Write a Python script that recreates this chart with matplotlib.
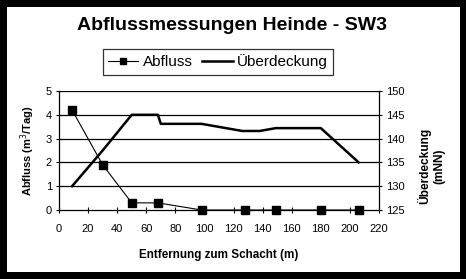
import matplotlib
matplotlib.use("Agg")
import matplotlib.pyplot as plt
from matplotlib.patches import Rectangle

plt.rcParams['font.family'] = ['Liberation Sans', 'DejaVu Sans']

# Data
abfluss_x = [9, 30, 50, 68, 98, 128, 149, 180, 206]
abfluss_y = [4.2, 1.9, 0.3, 0.3, 0.0, 0.0, 0.0, 0.0, 0.0]
ueber_x = [9, 30, 50, 68, 70, 98, 126, 138, 149, 180, 206]
ueber_y = [130, 137.5, 145, 145, 143.1, 143.1, 141.6, 141.6, 142.2, 142.2, 135]
x_ticks = list(range(0, 221, 20))
left_ticks = [0, 1, 2, 3, 4, 5]
right_ticks = [125, 130, 135, 140, 145, 150]

W, H = 466, 279
fig = plt.figure(figsize=(W / 100, H / 100), dpi=100, facecolor='black')
fig.patches.append(Rectangle((7 / W, 7 / H), (460 - 7) / W, (272 - 7) / H,
                             transform=fig.transFigure, facecolor='white',
                             edgecolor='none', zorder=-10))

L, R, T, B = 59, 379, 91, 210
ax = fig.add_axes([L / W, 1 - B / H, (R - L) / W, (B - T) / H])
ax.set_facecolor('none')
ax2 = ax.twinx()
ax2.set_facecolor('none')

ax.set_xlim(0, 220)
ax.set_ylim(0, 5)
ax2.set_ylim(125, 150)
ax.set_xticks(x_ticks)
ax.set_yticks(left_ticks)
ax2.set_yticks(right_ticks)

for y in left_ticks[1:]:
    ax.axhline(y, color='black', lw=0.9, zorder=1)

l1, = ax.plot(abfluss_x, abfluss_y, color='black', lw=0.8, marker='s',
              markersize=5.5, zorder=3, clip_on=False)
l2, = ax2.plot(ueber_x, ueber_y, color='black', lw=1.8, zorder=3)

for a in (ax, ax2):
    a.spines['top'].set_visible(False)
    for s in a.spines.values():
        s.set_linewidth(0.9)
ax.spines['right'].set_visible(False)
ax2.spines['left'].set_visible(False)
ax2.spines['bottom'].set_visible(False)

tick_kw = dict(labelsize=8, length=4, width=0.8, colors='black')
ax.tick_params(axis='x', direction='inout', pad=8, **tick_kw)
ax.tick_params(axis='y', direction='inout', pad=3, **tick_kw)
ax2.tick_params(axis='y', direction='inout', pad=3, **tick_kw)

ax.set_xlabel('Entfernung zum Schacht (m)', fontsize=8.4, fontweight='bold', labelpad=11)
ax.set_ylabel('Abfluss (m$^3$/Tag)', fontsize=8, fontweight='bold', labelpad=6)
fig.text(431 / W, 1 - 166 / H, 'Überdeckung\n(mNN)', rotation=90, ha='center',
         va='center', multialignment='center', fontsize=8.6, fontweight='bold')

fig.text(232 / W, 1 - 26 / H, 'Abflussmessungen Heinde - SW3', ha='center',
         va='center', fontsize=14, fontweight='bold')

leg = fig.legend([l1, l2], ['Abfluss', 'Überdeckung'], loc='center',
                 bbox_to_anchor=(218 / W, 1 - 62 / H), ncol=2, fontsize=11,
                 frameon=True, fancybox=False, edgecolor='black',
                 handlelength=2.0, handletextpad=0.3, columnspacing=0.6,
                 borderpad=0.35, markerscale=0.8)
leg.get_frame().set_linewidth(0.9)

fig.savefig('out.png', dpi=100, facecolor='black')
